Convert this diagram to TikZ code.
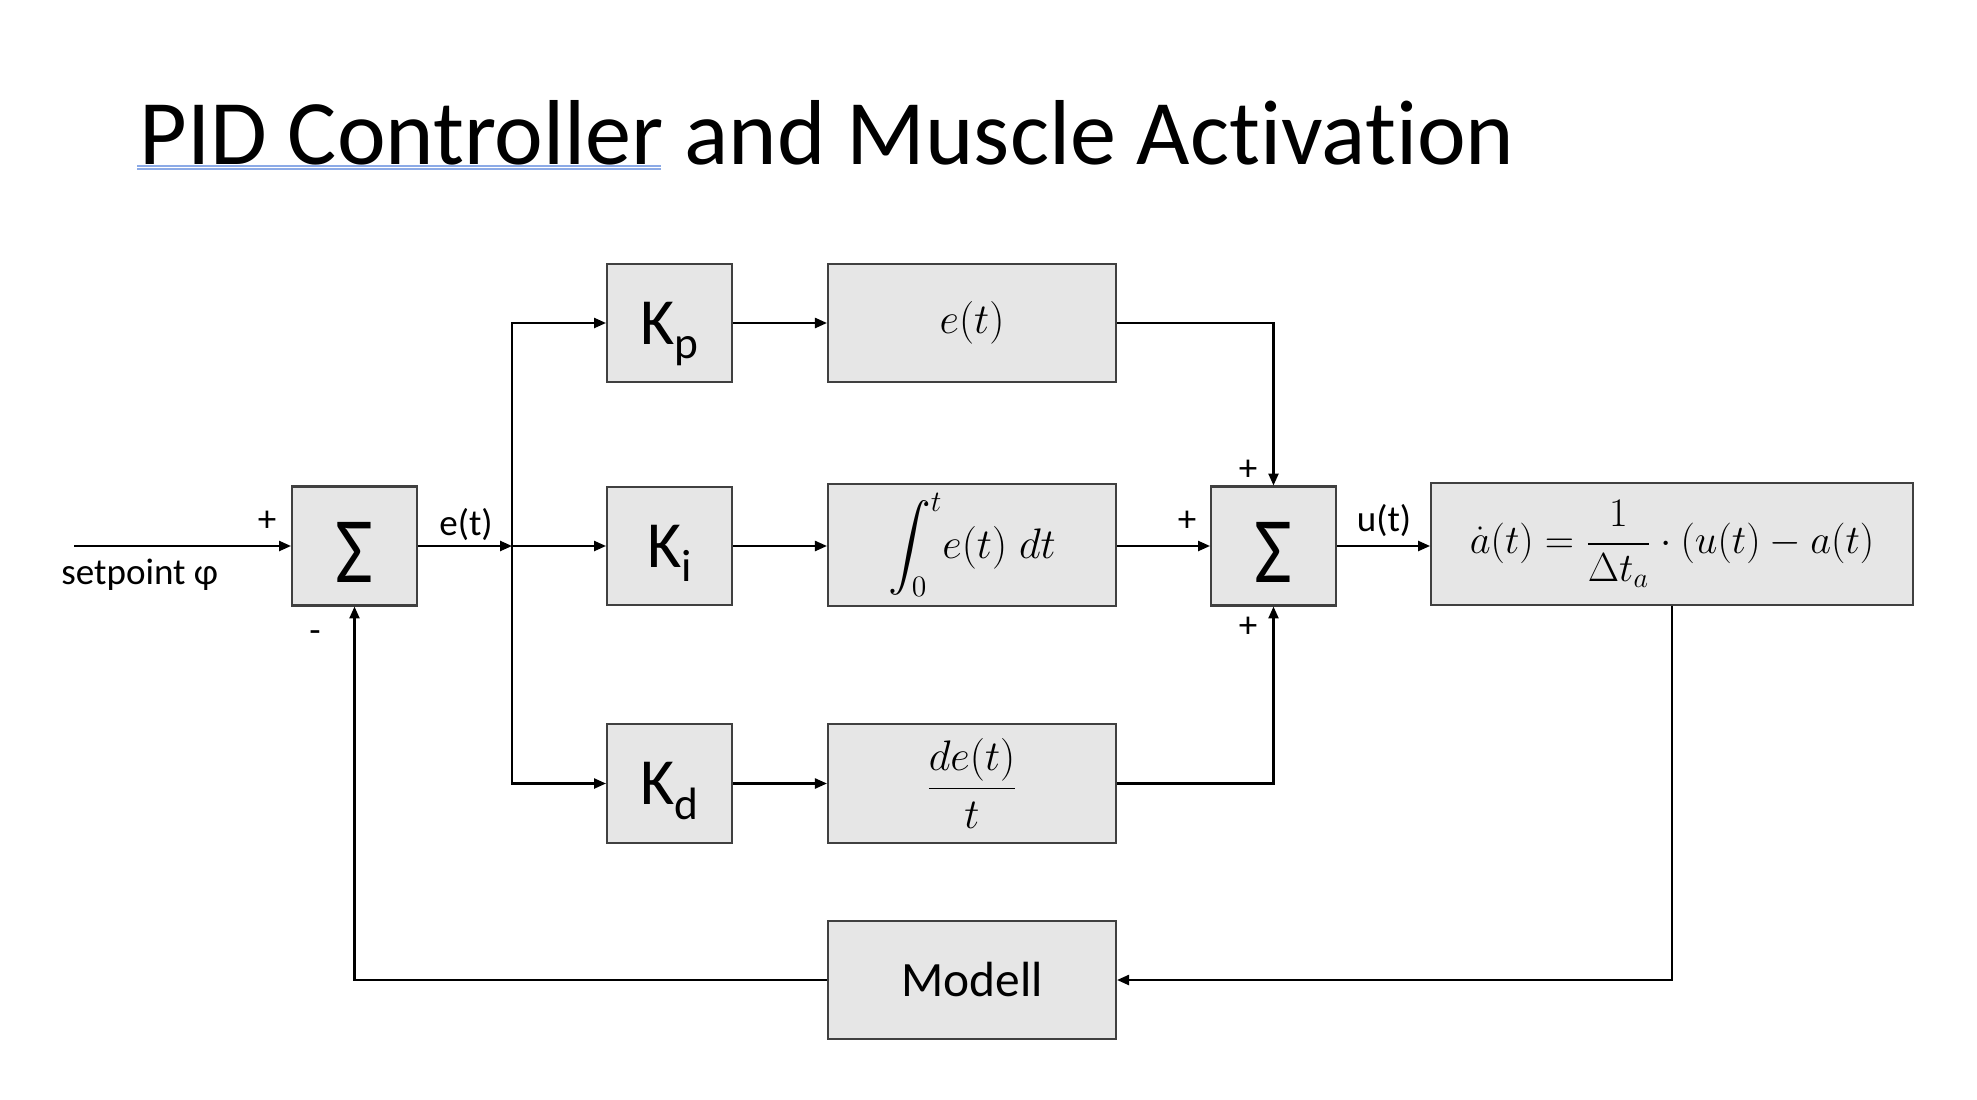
\documentclass[tikz,border=0pt]{standalone}
\usepackage{amsmath}
\usepackage{fontspec}
\setmainfont{Carlito}[Ligatures=NoCommon]
\usetikzlibrary{arrows.meta}

\tikzset{
  block/.style={draw={rgb, 255:red, 64; green, 64; blue, 64}, fill={rgb, 255:red, 230; green, 230; blue, 230}, line width=1pt, inner sep=0pt},
  gainbox/.style={block, minimum width=60.7pt, minimum height=57.5pt, text height=20.6pt, text depth=0pt, font=\fontsize{32}{32}\selectfont},
  sumbox/.style={block, minimum width=60.7pt, minimum height=57.8pt, text height=35pt, text depth=0pt},
  termbox/.style={block, minimum width=139.9pt, minimum height=57.5pt, font=\fontsize{20}{24}\selectfont},
  flow/.style={-{Triangle[length=5.8pt,width=4.9pt]}, line width=1pt},
  sign/.style={inner sep=0pt, font=\fontsize{18}{18}\selectfont},
}
\newcommand{\sumglyph}{\scalebox{0.88}[1]{\fontsize{45.5}{45.5}\selectfont Σ}}
\newcommand{\gainlbl}[2]{#1\raisebox{-7pt}{\fontsize{22}{22}\selectfont #2}}

\begin{document}
\begin{tikzpicture}[x=0.4856pt,y=0.4856pt,yscale=-1,xscale=1]
\useasboundingbox (0,0) rectangle (1977,1100);

% Title
\draw (139,164) node [anchor=base west,inner sep=0pt] (title) {\fontsize{44.8}{44.8}\selectfont PID Controller and Muscle Activation};
\draw [color={rgb, 255:red, 140; green, 170; blue, 230 }, line width=0.6pt] (137,166) -- (661,166) (137,169) -- (661,169);

%Shape: Sum blocks
\node [sumbox] (sumin) at (354.5,546) {\sumglyph};
\node [sumbox] (sumout) at (1273.5,546) {\sumglyph};

%Shape: Gain blocks
\node [gainbox] (kp) at (669.5,323) {\gainlbl{K}{p}};
\node [gainbox] (ki) at (669.5,546) {\gainlbl{K}{i}};
\node [gainbox] (kd) at (669.5,783.5) {\gainlbl{K}{d}};

%Shape: Term blocks
\node [termbox] (prop) at (972,323) {$e(t)$};
\node [termbox, minimum height=58.8pt] (integ) at (972,545) {$\displaystyle\int_0^t\! e(t)\;dt$};
\node [termbox] (deriv) at (972,783.5) {$\displaystyle\frac{de(t)}{t}$};
\node [termbox, font=\fontsize{24}{24}\selectfont] (modell) at (972,980) {Modell};
\node [block, minimum width=234pt, minimum height=59.2pt, font=\fontsize{20}{24}\selectfont] (act) at (1672,544) {\scalebox{0.95}{$\dot a(t) = \displaystyle\frac{1}{\Delta t_a}\cdot (u(t) - a(t)$}};

% Coordinates
\coordinate (start) at (74,546);
\coordinate (split) at (512,546);

%Straight Lines
\draw [flow] (start) -- (sumin.west);
\draw [flow] (sumin.east) -- (split);
\draw [flow] (split) -- (ki.west);
\draw [flow] (split) |- (kp.west);
\draw [flow] (split) |- (kd.west);
\draw [flow] (kp.east) -- (prop.west);
\draw [flow] (ki.east) -- (integ.west |- ki.east);
\draw [flow] (kd.east) -- (deriv.west);
\draw [flow] (prop.east) -| (sumout.north);
\draw [flow] (integ.east |- sumout.west) -- (sumout.west);
\draw [flow] (deriv.east) -| (sumout.south);
\draw [flow] (sumout.east) -- (act.west |- sumout.east);
\draw [flow] (act.south) |- (modell.east);
\draw [flow] (modell.west) -| (sumin.south);

% Text Node
\node [sign] (plusin) at (267,521) {+};
\node [sign] (minusin) at (315,637) {-};
\node [sign] (plustop) at (1248,470) {+};
\node [sign] (plusleft) at (1187,521) {+};
\node [sign] (plusbot) at (1248,627) {+};
\node [sign, anchor=base west] (setpoint) at (61,584) {setpoint φ};
\node [sign, anchor=base] (errlbl) at (466,535) {e(t)};
\node [sign, anchor=base] (ulbl) at (1384,531) {u(t)};

\end{tikzpicture}
\end{document}
